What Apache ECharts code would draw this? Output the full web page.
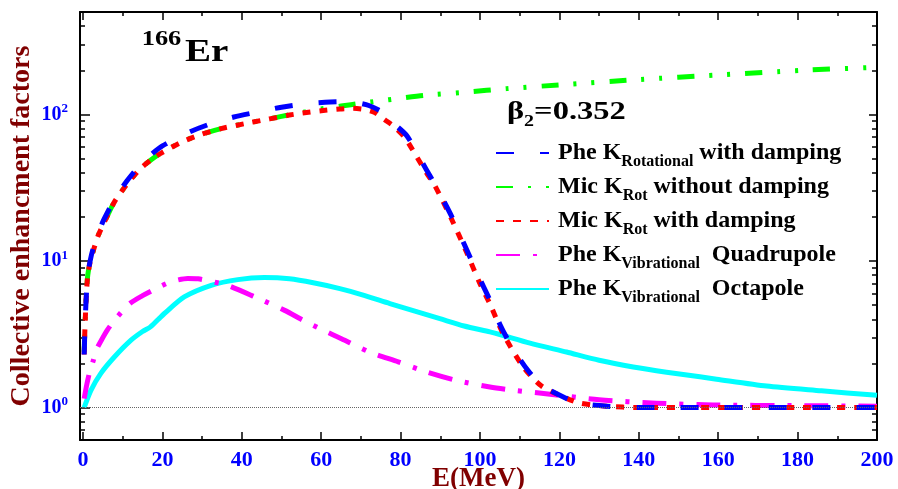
<!DOCTYPE html>
<html>
<head>
<meta charset="utf-8">
<script src="https://cdn.jsdelivr.net/npm/echarts@6.0.0/dist/echarts.min.js"></script>
<style>
html, body { margin: 0; padding: 0; background: #fff; }
#chart { width: 898px; height: 489px; }
</style>
</head>
<body>
<div id="chart"></div>
<script>
// energy grid (MeV) and enhancement factor for each curve
var eBlue = [0.3, 0.5, 0.8, 1.2, 1.8, 2.5, 3.7, 5, 6.2, 8, 11, 14.6, 16.7, 20, 26.4, 32, 38, 44, 50, 56, 61, 65, 69, 72, 75.6, 78, 81.5, 84, 86.5, 89, 93, 96.6, 100, 102.5, 105, 108, 112, 115.5, 121, 125, 132, 140, 160, 180, 200];
var kBlue = [2.3, 3.5, 5.5, 8, 10, 12, 15, 18.5, 21.5, 26.5, 35, 46, 52, 61, 75, 86, 96, 104, 112, 118, 121, 122, 120, 115, 103, 88, 72, 55, 42, 32, 19.8, 12, 7.5, 5.4, 3.7, 2.6, 1.8, 1.42, 1.18, 1.07, 1.02, 1.0, 1.0, 1.0, 1.0];

var eGreen = [0.3, 0.5, 0.8, 1.2, 1.8, 2.5, 3.7, 5, 6.2, 8, 11.3, 14.6, 17.6, 19.7, 24.7, 29.7, 34.8, 40.7, 45, 50, 56, 60, 65, 70, 74, 80, 86, 96.6, 106.7, 120, 140, 160, 175.6, 183, 200];
var kGreen = [2.4, 3.6, 5.6, 8, 9.8, 11.5, 14.6, 17.5, 20.5, 25.5, 34, 43, 50, 54.5, 64.5, 73, 80, 86.5, 91, 97, 104, 109, 114, 119, 123, 129, 135, 142, 150, 159, 173, 186, 196, 201, 210];

var eRed = [0.3, 0.5, 0.8, 1.2, 1.8, 2.5, 3.7, 5, 6.2, 8, 11.3, 14.6, 17.6, 19.7, 24.7, 29.7, 34.8, 40.7, 45, 49, 52, 56.3, 60, 64.7, 68, 71, 73.5, 76, 78.5, 81, 83.6, 86.5, 88.6, 92.8, 96.6, 100, 102.5, 105.8, 110.9, 115.5, 121, 125.2, 131.9, 140, 160, 180, 200];
var kRed = [2.3, 3.5, 5.5, 8, 9.8, 11.5, 14.6, 17.5, 20.5, 25.5, 34, 43, 50, 54.5, 64.5, 73, 80, 86.5, 91, 95.5, 99, 103, 106, 109, 110, 108, 103, 92, 82, 70, 54, 40, 32.8, 19.4, 11.5, 7.0, 5.1, 3.2, 1.89, 1.4, 1.18, 1.07, 1.02, 1.0, 1.0, 1.0, 1.0];

var eMag = [0.3, 1.0, 1.8, 2.5, 3.3, 4.7, 6.2, 8.3, 11.7, 15, 18, 21.8, 26.4, 29, 32.3, 36.5, 43.2, 50.8, 55.4, 60.5, 65.1, 72.2, 79.4, 86.5, 94.1, 102.5, 108.4, 115.5, 130, 144.5, 158.7, 180, 200];
var kMag = [1.15, 1.45, 1.8, 2.05, 2.45, 2.9, 3.4, 4.05, 5.1, 5.8, 6.4, 7.15, 7.6, 7.55, 7.25, 6.8, 5.7, 4.6, 3.94, 3.37, 2.95, 2.39, 2.05, 1.75, 1.53, 1.38, 1.31, 1.25, 1.13, 1.07, 1.04, 1.03, 1.02];

var eCyan = [0.3, 2, 4.5, 7.9, 12.1, 15, 17, 19, 20.5, 25.5, 32.3, 39, 45.7, 52, 58, 64.7, 71, 77.3, 83.6, 89.9, 96, 102.5, 105, 112.6, 121.8, 130, 138.6, 147, 155.4, 159.6, 172.2, 186, 200];
var kCyan = [1.0, 1.31, 1.71, 2.21, 2.88, 3.3, 3.55, 4.0, 4.38, 5.68, 6.82, 7.46, 7.7, 7.55, 7.1, 6.48, 5.8, 5.12, 4.55, 4.04, 3.6, 3.28, 3.15, 2.75, 2.39, 2.1, 1.89, 1.74, 1.62, 1.56, 1.4, 1.3, 1.21];

// tick values and labels
var xMajor = [0, 20, 40, 60, 80, 100, 120, 140, 160, 180, 200];
var xMinor = [10, 30, 50, 70, 90, 110, 130, 150, 170, 190];
var yMajor = [1, 10, 100];
var yExps = ['0', '1', '2'];
var yMinor = [0.7, 0.8, 0.9, 2, 3, 4, 5, 6, 7, 8, 9, 20, 30, 40, 50, 60, 70, 80, 90, 200, 300, 400];

// legend texts
var seriesNames = ['phe_rot', 'mic_nodamp', 'mic_damp', 'phe_quad', 'phe_oct'];
var legendHead = ['Phe K', 'Mic K', 'Mic K', 'Phe K', 'Phe K'];
var legendSub = ['Rotational', 'Rot', 'Rot', 'Vibrational', 'Vibrational'];
var legendTail = [' with damping', ' without damping', ' with damping', '  Quadrupole', '  Octapole'];

var serif = '"Liberation Serif", "Times New Roman", serif';
var blue = '#0000ff';
var maroon = '#800000';
var xMin = -0.75, xMax = 200, yMin = 0.6, yMax = 500;

function pairs(xs, ys) {
	var out = [];
	for (var i = 0; i < xs.length; i++) out.push([xs[i], ys[i]]);
	return out;
}

function curve(name, xs, ys, color, dash) {
	return {
		name: name,
		type: 'line',
		xAxisIndex: 0,
		yAxisIndex: 0,
		data: pairs(xs, ys),
		symbol: 'none',
		smooth: 0.25,
		itemStyle: { color: color },
		lineStyle: { color: color, width: 5, type: dash, cap: 'butt', join: 'round' },
		silent: true
	};
}

function xAxisOf(pos, ticks, len, main) {
	return {
		type: 'value', min: xMin, max: xMax, position: pos,
		axisLine: { show: main, onZero: false, lineStyle: { color: '#000', width: 2 } },
		axisTick: { show: true, inside: true, length: len, customValues: ticks, lineStyle: { color: '#000', width: 1.5 } },
		axisLabel: { show: false },
		splitLine: { show: false }
	};
}

function yAxisOf(pos, ticks, len, main) {
	return {
		type: 'log', logBase: 10, min: yMin, max: yMax, position: pos,
		axisLine: { show: main, onZero: false, lineStyle: { color: '#000', width: 2 } },
		axisTick: { show: true, inside: true, length: len, customValues: ticks, lineStyle: { color: '#000', width: 1.5 } },
		axisLabel: { show: false },
		splitLine: { show: false },
		minorTick: { show: false }
	};
}

var xBottom = xAxisOf('bottom', xMajor, 8, true);
xBottom.axisLabel = {
	show: true, customValues: xMajor, margin: 9,
	color: blue, fontSize: 22, fontWeight: 'bold', fontFamily: serif
};
xBottom.name = 'E(MeV)';
xBottom.nameLocation = 'middle';
xBottom.nameGap = 26;
xBottom.nameMoveOverlap = false;
xBottom.nameTextStyle = { color: maroon, fontSize: 27, fontWeight: 'bold', fontFamily: serif };

var yLeft = yAxisOf('left', yMajor, 10, true);
yLeft.axisLabel = {
	show: true, customValues: yMajor, margin: 12,
	formatter: function (v) {
		var best = 0;
		for (var i = 0; i < yMajor.length; i++) {
			if (Math.abs(Math.log(v / yMajor[i])) < Math.abs(Math.log(v / yMajor[best]))) best = i;
		}
		return '{b|10}{p|' + yExps[best] + '}';
	},
	rich: {
		b: { color: blue, fontSize: 20, lineHeight: 24, fontWeight: 'bold', fontFamily: serif },
		p: { color: blue, fontSize: 13, lineHeight: 12, verticalAlign: 'top', fontWeight: 'bold', fontFamily: serif }
	}
};
yLeft.name = 'Collective enhancment factors';
yLeft.nameLocation = 'middle';
yLeft.nameGap = 44;
yLeft.nameMoveOverlap = false;
yLeft.nameTextStyle = { color: maroon, fontSize: 28, fontWeight: 'bold', fontFamily: serif };

var legendRich = {
	m: { color: '#000', fontSize: 24, lineHeight: 34, fontWeight: 'bold', fontFamily: serif },
	s: { color: '#000', fontSize: 16, lineHeight: 16, verticalAlign: 'bottom', fontWeight: 'bold', fontFamily: serif }
};

var myChart = echarts.init(document.getElementById('chart'), null, { renderer: 'canvas' });
var option = {
	animation: false,
	backgroundColor: '#fff',
	grid: { left: 80, right: 21, top: 12, bottom: 49, containLabel: false, outerBoundsMode: 'none' },
	xAxis: [
		xBottom,
		xAxisOf('bottom', xMinor, 4, false),
		xAxisOf('top', xMajor, 8, true),
		xAxisOf('top', xMinor, 4, false)
	],
	yAxis: [
		yLeft,
		yAxisOf('left', yMinor, 5, false),
		yAxisOf('right', yMajor, 8, true),
		yAxisOf('right', yMinor, 5, false)
	],
	legend: {
		orient: 'vertical',
		left: 495,
		top: 141,
		itemWidth: 53,
		itemHeight: 14,
		itemGap: 5,
		padding: 0,
		data: seriesNames,
		itemStyle: { opacity: 0 },
		textStyle: { padding: [0, 0, 0, 4], rich: legendRich },
		formatter: function (name) {
			var i = seriesNames.indexOf(name);
			return '{m|' + legendHead[i] + '}{s|' + legendSub[i] + '}{m|' + legendTail[i] + '}';
		}
	},
	graphic: [
		{ type: 'text', x: 141.7, y: 39.5, scaleX: 1.2, silent: true,
			style: { text: '166', fill: '#000', fontSize: 22, fontWeight: 'bold', fontFamily: serif, align: 'left', verticalAlign: 'middle' } },
		{ type: 'text', x: 185, y: 52.5, scaleX: 1.22, silent: true,
			style: { text: 'Er', fill: '#000', fontSize: 32, fontWeight: 'bold', fontFamily: serif, align: 'left', verticalAlign: 'middle' } },
		{ type: 'text', x: 507, y: 112.5, scaleX: 1.25, silent: true,
			style: {
				text: '{m|β}{s|2}{m|=0.352}', align: 'left', verticalAlign: 'middle',
				rich: {
					m: { fill: '#000', fontSize: 26, lineHeight: 34, fontWeight: 'bold', fontFamily: serif },
					s: { fill: '#000', fontSize: 16, lineHeight: 16, verticalAlign: 'bottom', fontWeight: 'bold', fontFamily: serif }
				}
			} }
	],
	series: [
		(function () {
			var s = curve('phe_oct', eCyan, kCyan, '#00ffff', 'solid');
			s.markLine = {
				silent: true, symbol: ['none', 'none'], label: { show: false },
				lineStyle: { color: '#666', type: 'dotted', width: 1 },
				data: [{ yAxis: 1 }]
			};
			return s;
		})(),
		curve('phe_quad', eMag, kMag, '#ff00ff', [24, 13, 4, 13]),
		curve('mic_nodamp', eGreen, kGreen, '#00ff00', [17, 15, 3, 15, 3, 15]),
		curve('mic_damp', eRed, kRed, '#ff0000', [8, 9]),
		curve('phe_rot', eBlue, kBlue, '#0000ff', [18, 26])
	]
};
myChart.setOption(option);
</script>
</body>
</html>
